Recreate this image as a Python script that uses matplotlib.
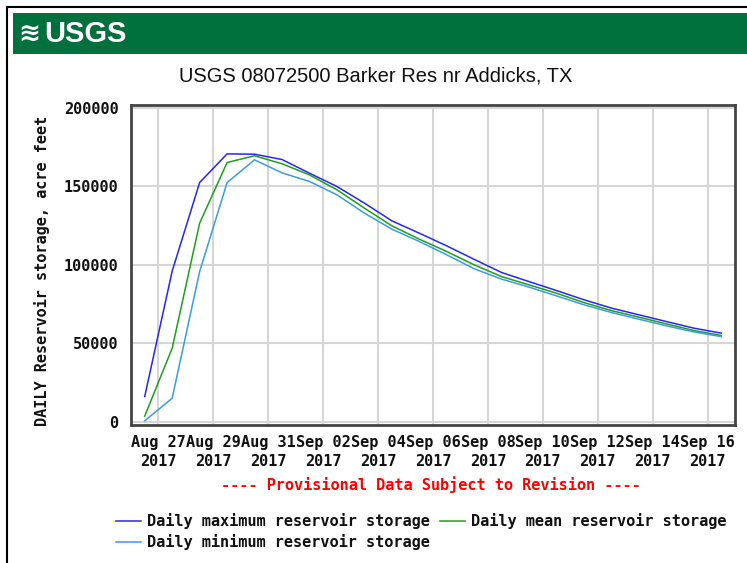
import numpy as np
import matplotlib
matplotlib.use('Agg')
import matplotlib.pyplot as plt
import matplotlib.dates as mdates
from matplotlib.patches import Rectangle
from matplotlib.lines import Line2D
from matplotlib.font_manager import FontProperties

## data (acre feet, one value per day)
days = np.arange(np.datetime64('2017-08-26'), np.datetime64('2017-09-17')) + np.timedelta64(12, 'h')

storage_max = [16000, 96000, 152500, 170800, 170600, 167200, 158500, 150000, 139400, 128100, 120200,
               112100, 103500, 95100, 89300, 83600, 77700, 72400, 68100, 63800, 59600, 56400]
storage_mean = [3500, 46800, 126600, 165300, 169600, 164500, 157400, 147900, 136200, 124900, 116400,
                108500, 100000, 92500, 87200, 81900, 75900, 70800, 66600, 62300, 58100, 54900]
storage_min = [500, 14900, 95700, 152500, 167000, 158700, 153200, 144700, 133000, 122800, 114900,
               106400, 97500, 90900, 85800, 80200, 74500, 69600, 65300, 61100, 57200, 54200]

yticks = [0, 50000, 100000, 150000, 200000]
title = 'USGS 08072500 Barker Res nr Addicks, TX'
ylabel = 'DAILY Reservoir storage, acre feet'
labels = ['Daily maximum reservoir storage', 'Daily mean reservoir storage', 'Daily minimum reservoir storage']
colors = ['#2626f5', '#1f9e1f', '#3a9de0']

mono = dict(family='DejaVu Sans Mono', weight='bold', size=11)

W, H = 747, 563
fig = plt.figure(figsize=(W / 100, H / 100), dpi=100)

# outer frame and green banner
fig.add_artist(Line2D([7 / W, 7 / W], [0, 1 - 7 / H], color='black', lw=1.5))
fig.add_artist(Line2D([7 / W, 1], [1 - 7 / H, 1 - 7 / H], color='black', lw=1.5))
fig.add_artist(Rectangle((13 / W, 1 - 54 / H), 1 - 13 / W, 41 / H, color='#00703c', lw=0))
fig.text(18 / W, 1 - 34 / H, '\u224b', color='white', fontsize=19, weight='bold', va='center', ha='left')
fig.text(44 / W, 1 - 34 / H, 'USGS', color='white', fontsize=21, weight='bold', va='center', ha='left',
         family='Liberation Sans')

fig.text(376 / W, 1 - 76 / H, title, fontsize=14.5, ha='center', va='center', color='#111111',
         family='Liberation Sans')

ax = fig.add_axes([131 / W, 1 - 425 / H, (735 - 131) / W, (425 - 105) / H])
ax.plot(days, storage_max, color=colors[0], lw=1.1)
ax.plot(days, storage_mean, color=colors[1], lw=1.1)
ax.plot(days, storage_min, color=colors[2], lw=1.1)

ax.set_xlim(np.datetime64('2017-08-26'), np.datetime64('2017-09-17'))
ax.set_ylim(-2200, 202000)
ax.set_yticks(yticks)
ax.set_yticklabels([str(v) for v in yticks], fontdict=mono)
ax.xaxis.set_major_locator(mdates.DayLocator(bymonthday=[27, 29, 31, 2, 4, 6, 8, 10, 12, 14, 16]))
ax.xaxis.set_major_formatter(mdates.DateFormatter('%b %d\n%Y'))
for lab in ax.get_xticklabels():
    lab.set_fontproperties(FontProperties(**mono))
    lab.set_linespacing(1.35)
ax.tick_params(axis='x', length=0, pad=7, colors='#111111')
ax.tick_params(axis='y', length=0, pad=9, colors='#111111')
ax.grid(True, color='#d6d6d6', lw=1.5)
ax.set_axisbelow(True)
for sp in ax.spines.values():
    sp.set_color('#444444')
    sp.set_linewidth(2)

fig.text(42 / W, 1 - 271 / H, ylabel, rotation=90, ha='center', va='center', color='#111111', **mono)
fig.text(431 / W, 1 - 485 / H, '---- Provisional Data Subject to Revision ----', ha='center', va='center',
         color='#ff0000', **mono)

h = [Line2D([], [], color=c, lw=1.1) for c in colors]
leg = fig.legend([h[0], h[2], h[1]], [labels[0], labels[2], labels[1]], ncol=2, loc='upper left',
                 bbox_to_anchor=(116 / W, 1 - 513 / H), frameon=False, prop=FontProperties(**mono),
                 handlelength=1.65, handletextpad=0.4, columnspacing=0.65, labelspacing=0.35, borderpad=0,
                 borderaxespad=0)
for t in leg.get_texts():
    t.set_color('#111111')

fig.savefig('out.png', dpi=100)
